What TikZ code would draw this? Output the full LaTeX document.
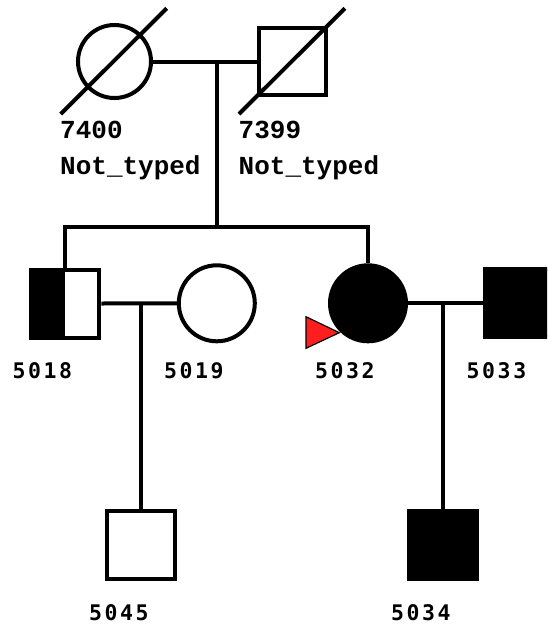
\documentclass[tikz,border=0pt]{standalone}
\usepackage{fontspec}
\newfontfamily\topfont{Liberation Mono}
\newfontfamily\labfont[LetterSpace=12]{DejaVu Sans Mono}
\definecolor{probandred}{RGB}{255,30,30}
\begin{document}
\begin{tikzpicture}[x=1pt,y=-1pt,
  lw/.style={line width=4pt},
  circ/.style={circle,draw,lw,inner sep=0pt},
  sq/.style={rectangle,draw,lw,inner sep=0pt},
  toplab/.style={anchor=base west,inner sep=0pt,font=\topfont\bfseries\fontsize{26}{30}\selectfont},
  idlab/.style={anchor=base west,inner sep=0pt,font=\labfont\bfseries\fontsize{21.5}{26}\selectfont},
  conn/.style={lw}]
\useasboundingbox (0,0) rectangle (547,630);
\clip (0,0) rectangle (547,630);
% generation I
\node[circ,minimum size=73pt] (p7400) at (114.5,61.5) {};
\node[sq,minimum size=67pt] (p7399) at (292,61.5) {};
\coordinate (s1a) at (60.7,114); \coordinate (s1b) at (166.7,8.3);
\coordinate (s2a) at (239,114); \coordinate (s2b) at (345,8.3);
\draw[lw] (s1a) -- (s1b);
\draw[lw] (s2a) -- (s2b);
\node[toplab] (l7400) at (60,138.3) {7400};
\node[toplab] (n7400) at (60,174) {Not\_typed};
\node[toplab] (l7399) at (238.5,138.3) {7399};
\node[toplab] (n7399) at (238.5,174) {Not\_typed};
% generation II
\node[sq,minimum size=68pt,path picture={\fill[black] (path picture bounding box.south west) rectangle (path picture bounding box.north);}] (p5018) at (65.3,303.5) {};
\node[circ,minimum size=76pt] (p5019) at (216.8,303.3) {};
\node[circ,fill=black,minimum size=76pt] (p5032) at (368,303.3) {};
\node[sq,fill=black,minimum size=68pt] (p5033) at (518.7,303.3) {};
% generation III
\node[sq,minimum size=68pt] (p5045) at (141.3,545.3) {};
\node[sq,fill=black,minimum size=68pt] (p5034) at (443.3,545.3) {};
% connectors
\coordinate (m1) at (216.7,61.5);
\coordinate (sib) at (216.7,227.3);
\draw[conn] (p7400.east) -- (p7399.west);
\draw[conn] (m1) -- (sib);
\draw[conn] (p5018.north) -- (p5018.north |- sib) -- (p5032.north |- sib) -- (p5032.north);
\coordinate (m2) at (141.3,303.3);
\coordinate (m3) at (443.3,303.3);
\draw[conn] (p5018.east) -- (p5019.west);
\draw[conn] (m2) -- (p5045.north);
\draw[conn] (p5032.east) -- (p5033.west);
\draw[conn] (m3) -- (p5034.north);
% proband arrow
\coordinate (ta) at (306,316.7);
\coordinate (tb) at (306,348.3);
\coordinate (tc) at (339.3,332.7);
\filldraw[fill=probandred,draw=black,line width=1.2pt,line join=miter] (ta) -- (tc) -- (tb) -- cycle;
% labels
\node[idlab] (l5018) at (12.5,378.3) {5018};
\node[idlab] (l5019) at (164,378.3) {5019};
\node[idlab] (l5032) at (315,378.3) {5032};
\node[idlab] (l5033) at (466.5,378.3) {5033};
\node[idlab] (l5045) at (89,620) {5045};
\node[idlab] (l5034) at (391,620) {5034};
\end{tikzpicture}
\end{document}
